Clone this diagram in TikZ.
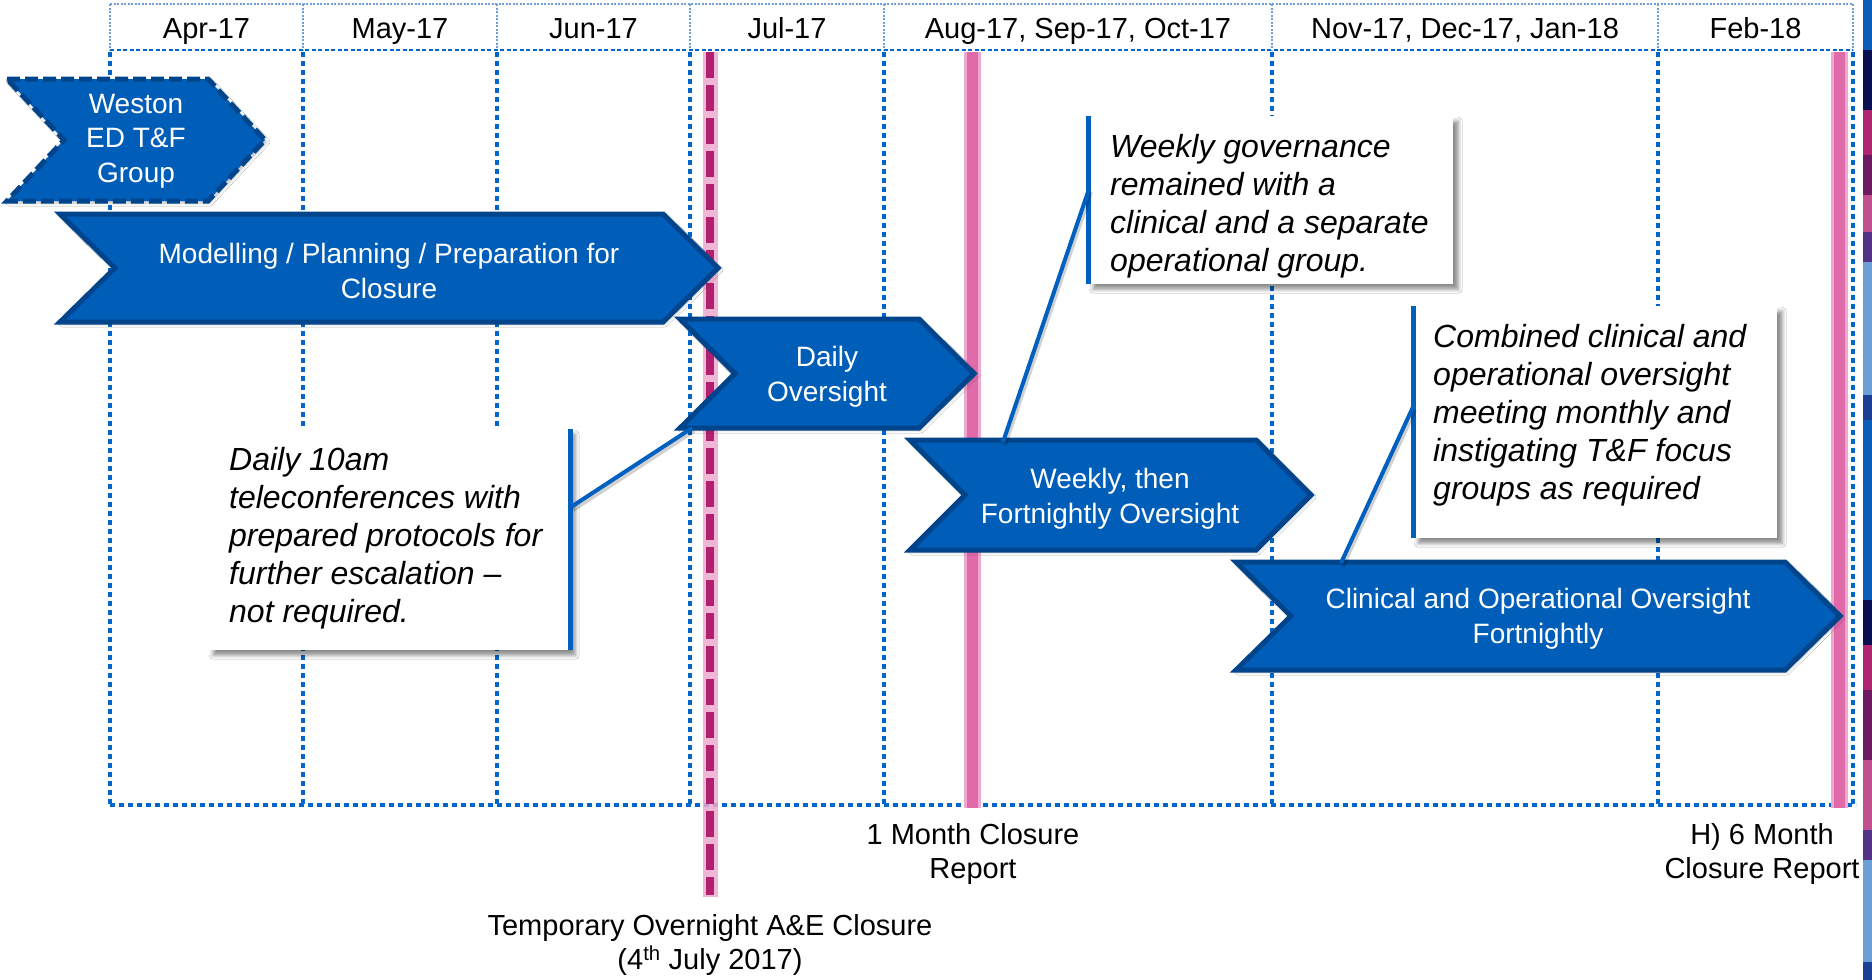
\documentclass[tikz,border=0pt]{standalone}
\usepackage{fontspec}
\setmainfont{Liberation Sans}
\usetikzlibrary{shadows.blur}

\definecolor{chevfill}{RGB}{0,94,184}
\definecolor{chevline}{RGB}{0,68,140}
\definecolor{gridblue}{RGB}{0,102,204}
\definecolor{hdrblue}{RGB}{110,160,215}
\definecolor{linkblue}{RGB}{0,96,192}
\definecolor{closepink}{RGB}{224,106,170}
\definecolor{closeglow}{RGB}{238,170,206}
\definecolor{closemag}{RGB}{176,32,110}
% side strip colours
\definecolor{sblue}{RGB}{10,94,184}
\definecolor{snavy}{RGB}{10,15,82}
\definecolor{smag}{RGB}{176,36,112}
\definecolor{sdpur}{RGB}{110,26,98}
\definecolor{spink}{RGB}{194,80,142}
\definecolor{spur}{RGB}{82,51,136}
\definecolor{slblue}{RGB}{107,159,214}
\definecolor{sdblue}{RGB}{26,63,148}

\tikzset{
  gridrule/.style={gridblue, line width=4.5pt, dash pattern=on 5pt off 4pt},
  hdrrule/.style={hdrblue, line width=1.2pt, dash pattern=on 2pt off 1.5pt},
  hdrbottom/.style={gridblue, line width=2.5pt, dash pattern=on 4pt off 2.5pt},
  chevronbox/.style={fill=chevfill, draw=chevline, line width=5pt, line join=miter,
    blur shadow={shadow xshift=2pt, shadow yshift=-2pt, shadow blur radius=3pt, shadow opacity=25}},
  chevtext/.style={text=white, align=center, inner sep=0pt, font=\fontsize{28}{34.5}\selectfont},
  notebox/.style={fill=white, inner sep=0pt,
    blur shadow={shadow xshift=5pt, shadow yshift=-5pt, shadow blur radius=4pt, shadow opacity=45}},
  notetext/.style={align=left, anchor=west, inner sep=0pt, font=\fontsize{32}{38}\selectfont\itshape},
  noteedge/.style={linkblue, line width=5pt},
  connector/.style={linkblue, line width=4pt,
    preaction={draw=black, opacity=0.18, line width=4pt, transform canvas={shift={(2pt,-3pt)}}}},
  monthtext/.style={font=\fontsize{29}{34}\selectfont, inner sep=0pt, anchor=base},
  captiontext/.style={font=\fontsize{29}{34.6}\selectfont, align=center, inner sep=0pt},
}

% chevron: [style] left, top, right tip, bottom, point depth
\newcommand\drawchevron[6][]{%
  \draw[chevronbox,#1] (#2,#3) -- ({#4-#6},#3) -- (#4,{(#3+#5)/2}) -- ({#4-#6},#5)
    -- (#2,#5) -- ({#2+#6},{(#3+#5)/2}) -- cycle;}

\begin{document}
\begin{tikzpicture}[x=1pt,y=-1pt]
\useasboundingbox (0,0) rectangle (1872,980);
\fill[white] (0,0) rectangle (1872,980);

% ---- month header ----
\foreach \xx in {110,303,497,690,884,1272,1658,1853}
  \draw[hdrrule] (\xx,4) -- (\xx,50);
\draw[hdrrule] (110,4) -- (1853,4);
\node[monthtext] (m1) at (206.5,38) {Apr-17};
\node[monthtext] (m2) at (400,38) {May-17};
\node[monthtext] (m3) at (593.5,38) {Jun-17};
\node[monthtext] (m4) at (787,38) {Jul-17};
\node[monthtext] (m5) at (1078,38) {Aug-17, Sep-17, Oct-17};
\node[monthtext] (m6) at (1465,38) {Nov-17, Dec-17, Jan-18};
\node[monthtext] (m7) at (1755.5,38) {Feb-18};

% ---- dotted grid ----
\foreach \xx in {110,303,497,690,884,1272,1658,1853}
  \draw[gridrule] (\xx,52) -- (\xx,805);
\draw[gridrule] (110,805) -- (1856,805);
\draw[hdrbottom] (110,50) -- (1853,50);

% ---- closure markers ----
\draw[closeglow, line width=15pt, opacity=0.85] (710,52) -- (710,897);
\draw[closemag, line width=8pt, dash pattern=on 26pt off 7pt] (710,52) -- (710,895);
\draw[closeglow, line width=17pt] (972,52) -- (972,808);
\draw[closepink, line width=11pt] (972,52) -- (972,808);
\draw[closeglow, line width=17pt] (1839,52) -- (1839,808);
\draw[closepink, line width=11pt] (1839,52) -- (1839,808);

% ---- phases ----
\drawchevron[dash pattern=on 13pt off 5pt]{7}{79}{265}{201}{57}
\node[chevtext] (weston) at (136,141) {Weston\\ED T\&F\\Group};

\drawchevron{60}{214}{718}{322}{55}
\node[chevtext] (model) at (389,271) {Modelling / Planning / Preparation for\\Closure};

\drawchevron{680}{319}{974}{428}{55}
\node[chevtext] (daily) at (827,377) {Daily\\Oversight};

\drawchevron{910}{440}{1311}{550}{55}
\node[chevtext] (weekly) at (1110,499) {Weekly, then\\Fortnightly Oversight};

\drawchevron{1236}{562}{1840}{670}{55}
\node[chevtext] (clinical) at (1538,619) {Clinical and Operational Oversight\\Fortnightly};

% ---- notes ----
\node[notebox, anchor=north west, minimum width=362pt, minimum height=221pt] (boxA) at (208,429) {};
\draw[noteedge] (boxA.north east) -- (boxA.south east);
\node[notetext] (txtA) at (229,538) {Daily 10am\\teleconferences with\\prepared protocols for\\further escalation --\\not required.};

\node[notebox, anchor=north west, minimum width=365pt, minimum height=168pt] (boxB) at (1088,116) {};
\draw[noteedge] (boxB.north west) -- (boxB.south west);
\node[notetext] (txtB) at (1110,206) {Weekly governance\\remained with a\\clinical and a separate\\operational group.};

\node[notebox, anchor=north west, minimum width=364pt, minimum height=232pt] (boxC) at (1413,306) {};
\draw[noteedge] (boxC.north west) -- (boxC.south west);
\node[notetext] (txtC) at (1433,415) {Combined clinical and\\operational oversight\\meeting monthly and\\instigating T\&F focus\\groups as required};

% ---- note connectors ----
\coordinate (a1) at (571,507);  \coordinate (a2) at (692,428);
\coordinate (b1) at (1089,189); \coordinate (b2) at (1003,442);
\coordinate (c1) at (1413,407); \coordinate (c2) at (1341,563);
\draw[connector] (a1) -- (a2);
\draw[connector] (b1) -- (b2);
\draw[connector] (c1) -- (c2);

% ---- milestone captions ----
\node[captiontext] (cap1) at (710,945) {Temporary Overnight A\&E Closure\\(4\textsuperscript{th} July 2017)};
\node[captiontext] (cap2) at (973,854) {1 Month Closure\\Report};
\node[captiontext] (cap3) at (1762,854) {H) 6 Month\\Closure Report};

% ---- coloured side strip ----
\foreach \ya/\yb/\cc in {0/50/sblue, 50/110/snavy, 110/155/smag, 155/195/sdpur, 195/232/spink,
    232/262/spur, 262/395/slblue, 395/420/sdblue, 420/600/sblue, 600/645/snavy, 645/690/smag,
    690/760/sdpur, 760/830/spink, 830/860/spur, 860/962/slblue, 962/980/sdblue}
  \fill[\cc] (1863,\ya) rectangle (1872,\yb);
\end{tikzpicture}
\end{document}
